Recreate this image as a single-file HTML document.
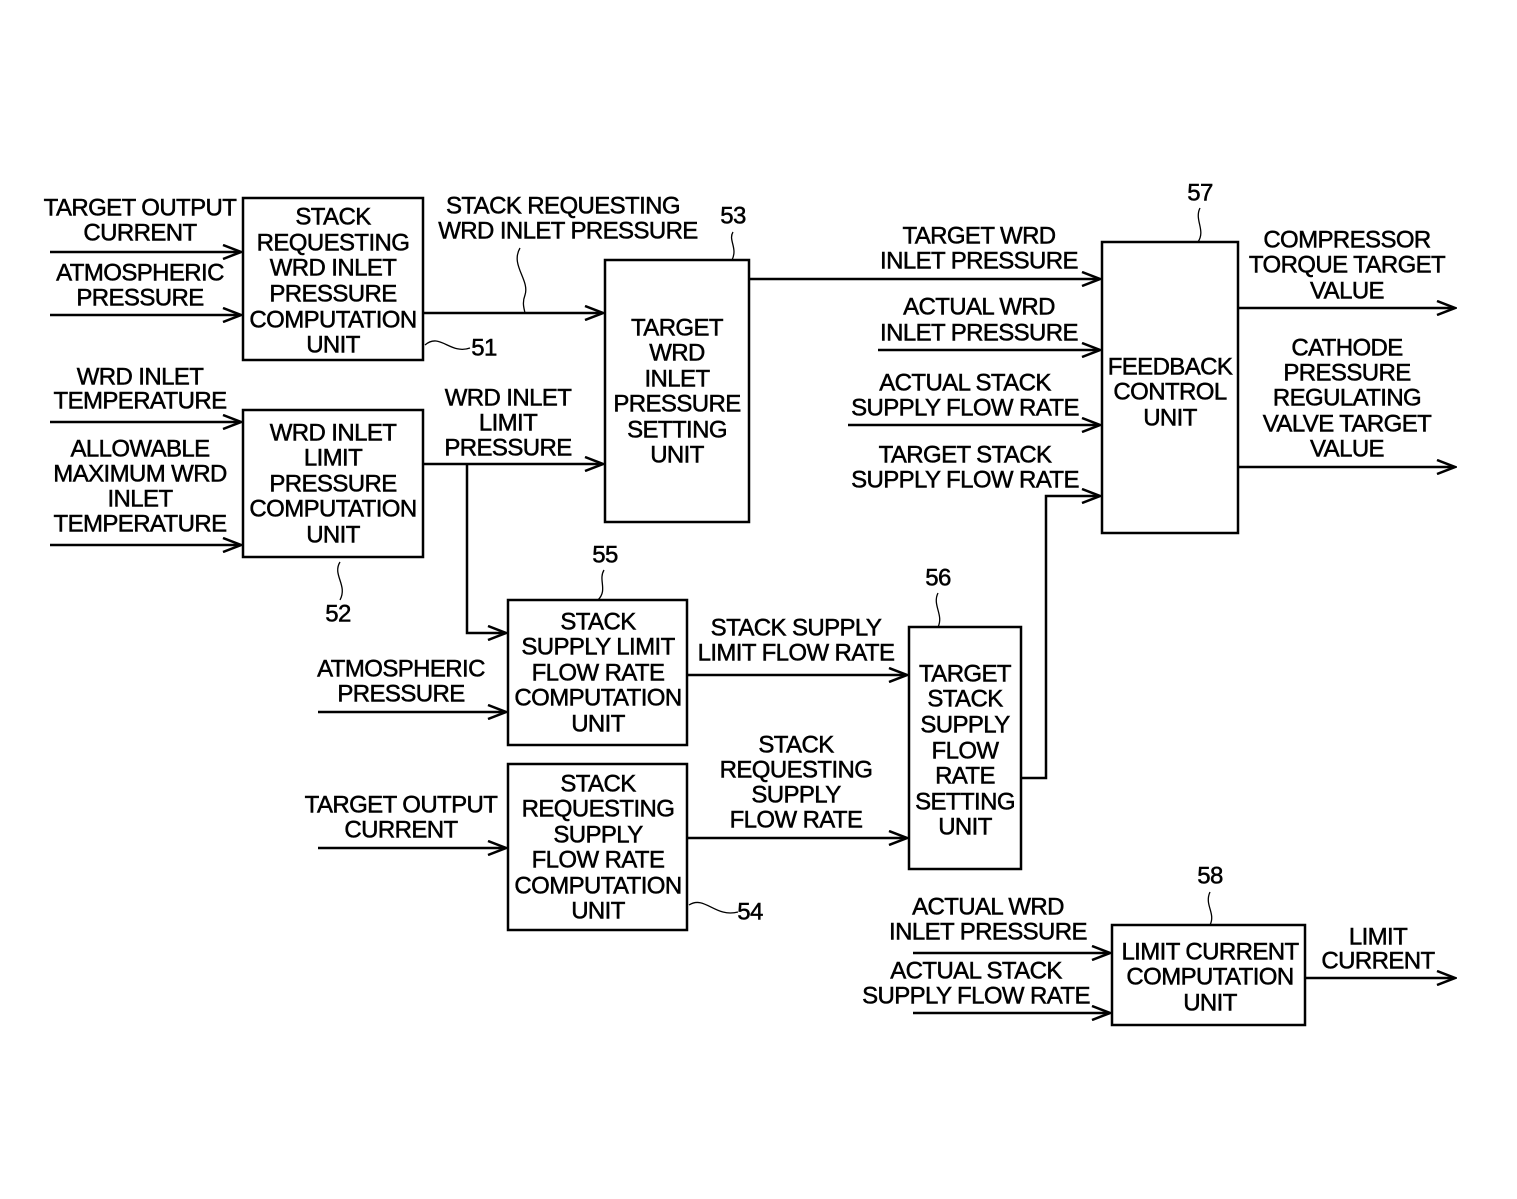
<!DOCTYPE html>
<html><head><meta charset="utf-8"><style>
html,body{margin:0;padding:0;background:#fff}
svg text{font-family:"Liberation Sans",sans-serif;font-size:24px;fill:#000;stroke:#000;stroke-width:0.5;letter-spacing:-0.6px;text-anchor:middle;dominant-baseline:central}
</style></head><body>
<svg width="1517" height="1194" viewBox="0 0 1517 1194" xmlns="http://www.w3.org/2000/svg">
<defs><marker id="a" markerWidth="22" markerHeight="16" refX="20" refY="8" orient="auto" markerUnits="userSpaceOnUse"><polyline points="2,1 20,8 2,15" fill="none" stroke="#000" stroke-width="2.5"/></marker></defs>
<g fill="none" stroke="#000" stroke-width="2.5">
<rect x="243" y="198" width="180" height="162"/>
<rect x="243" y="410" width="180" height="147"/>
<rect x="605" y="260" width="144" height="262"/>
<rect x="508" y="600" width="179" height="145"/>
<rect x="508" y="764" width="179" height="166"/>
<rect x="909" y="627" width="112" height="242"/>
<rect x="1102" y="242" width="136" height="291"/>
<rect x="1112" y="925" width="193" height="100"/>
</g>
<g fill="none" stroke="#000" stroke-width="2.5" marker-end="url(#a)">
<line x1="50" y1="252" x2="241" y2="252"/>
<line x1="50" y1="315" x2="241" y2="315"/>
<line x1="423" y1="313" x2="603" y2="313"/>
<line x1="50" y1="422" x2="241" y2="422"/>
<line x1="50" y1="545" x2="241" y2="545"/>
<line x1="423" y1="464" x2="603" y2="464"/>
<polyline points="467,464 467,633 506,633"/>
<line x1="318" y1="712" x2="506" y2="712"/>
<line x1="318" y1="848" x2="506" y2="848"/>
<line x1="687" y1="675" x2="907" y2="675"/>
<line x1="687" y1="838" x2="907" y2="838"/>
<polyline points="1021,778 1046,778 1046,496 1100,496"/>
<line x1="749" y1="279" x2="1100" y2="279"/>
<line x1="878" y1="350" x2="1100" y2="350"/>
<line x1="848" y1="425" x2="1100" y2="425"/>
<line x1="1238" y1="308" x2="1455" y2="308"/>
<line x1="1238" y1="467" x2="1455" y2="467"/>
<line x1="913" y1="953" x2="1110" y2="953"/>
<line x1="913" y1="1013" x2="1110" y2="1013"/>
<line x1="1305" y1="978" x2="1455" y2="978"/>
</g>
<g fill="none" stroke="#000" stroke-width="1.3">
<path d="M520,248 C510,265 530,280 525,295 C522,303 524,308 525,313"/>
<path d="M733,232 C728,240 738,248 732,260"/>
<path d="M425,345 C440,332 450,355 470,348"/>
<path d="M340,562 C332,575 348,585 340,600"/>
<path d="M604,570 C598,580 608,590 598,600"/>
<path d="M938,593 C932,605 944,615 938,627"/>
<path d="M1200,208 C1194,220 1206,230 1198,242"/>
<path d="M1210,892 C1204,905 1216,913 1210,925"/>
<path d="M689,905 C705,895 715,918 738,912"/>
</g>
<text x="140" y="208">TARGET OUTPUT</text><text x="140" y="233">CURRENT</text>
<text x="140" y="273">ATMOSPHERIC</text><text x="140" y="298">PRESSURE</text>
<text x="140" y="377">WRD INLET</text><text x="140" y="401">TEMPERATURE</text>
<text x="140" y="449">ALLOWABLE</text><text x="140" y="474">MAXIMUM WRD</text><text x="140" y="499">INLET</text><text x="140" y="524">TEMPERATURE</text>
<text x="333" y="217">STACK</text><text x="333" y="243">REQUESTING</text><text x="333" y="268">WRD INLET</text><text x="333" y="294">PRESSURE</text><text x="333" y="320">COMPUTATION</text><text x="333" y="345">UNIT</text>
<text x="333" y="433">WRD INLET</text><text x="333" y="458">LIMIT</text><text x="333" y="484">PRESSURE</text><text x="333" y="509">COMPUTATION</text><text x="333" y="535">UNIT</text>
<text x="563" y="206">STACK REQUESTING</text><text x="568" y="231">WRD INLET PRESSURE</text>
<text x="733" y="216">53</text><text x="484" y="348">51</text><text x="338" y="614">52</text><text x="605" y="555">55</text><text x="938" y="578">56</text><text x="1200" y="193">57</text><text x="1210" y="876">58</text><text x="750" y="912">54</text>
<text x="677" y="328">TARGET</text><text x="677" y="353">WRD</text><text x="677" y="379">INLET</text><text x="677" y="404">PRESSURE</text><text x="677" y="430">SETTING</text><text x="677" y="455">UNIT</text>
<text x="508" y="398">WRD INLET</text><text x="508" y="423">LIMIT</text><text x="508" y="448">PRESSURE</text>
<text x="598" y="622">STACK</text><text x="598" y="647">SUPPLY LIMIT</text><text x="598" y="673">FLOW RATE</text><text x="598" y="698">COMPUTATION</text><text x="598" y="724">UNIT</text>
<text x="401" y="669">ATMOSPHERIC</text><text x="401" y="694">PRESSURE</text>
<text x="401" y="805">TARGET OUTPUT</text><text x="401" y="830">CURRENT</text>
<text x="598" y="784">STACK</text><text x="598" y="809">REQUESTING</text><text x="598" y="835">SUPPLY</text><text x="598" y="860">FLOW RATE</text><text x="598" y="886">COMPUTATION</text><text x="598" y="911">UNIT</text>
<text x="796" y="628">STACK SUPPLY</text><text x="796" y="653">LIMIT FLOW RATE</text>
<text x="796" y="745">STACK</text><text x="796" y="770">REQUESTING</text><text x="796" y="795">SUPPLY</text><text x="796" y="820">FLOW RATE</text>
<text x="965" y="674">TARGET</text><text x="965" y="699">STACK</text><text x="965" y="725">SUPPLY</text><text x="965" y="751">FLOW</text><text x="965" y="776">RATE</text><text x="965" y="802">SETTING</text><text x="965" y="827">UNIT</text>
<text x="1170" y="367">FEEDBACK</text><text x="1170" y="392">CONTROL</text><text x="1170" y="418">UNIT</text>
<text x="979" y="236">TARGET WRD</text><text x="979" y="261">INLET PRESSURE</text>
<text x="979" y="307">ACTUAL WRD</text><text x="979" y="333">INLET PRESSURE</text>
<text x="965" y="383">ACTUAL STACK</text><text x="965" y="408">SUPPLY FLOW RATE</text>
<text x="965" y="455">TARGET STACK</text><text x="965" y="480">SUPPLY FLOW RATE</text>
<text x="1347" y="240">COMPRESSOR</text><text x="1347" y="265">TORQUE TARGET</text><text x="1347" y="291">VALUE</text>
<text x="1347" y="348">CATHODE</text><text x="1347" y="373">PRESSURE</text><text x="1347" y="398">REGULATING</text><text x="1347" y="424">VALVE TARGET</text><text x="1347" y="449">VALUE</text>
<text x="1210" y="952">LIMIT CURRENT</text><text x="1210" y="977">COMPUTATION</text><text x="1210" y="1003">UNIT</text>
<text x="988" y="907">ACTUAL WRD</text><text x="988" y="932">INLET PRESSURE</text>
<text x="976" y="971">ACTUAL STACK</text><text x="976" y="996">SUPPLY FLOW RATE</text>
<text x="1378" y="937">LIMIT</text><text x="1378" y="961">CURRENT</text>
</svg>
</body></html>
